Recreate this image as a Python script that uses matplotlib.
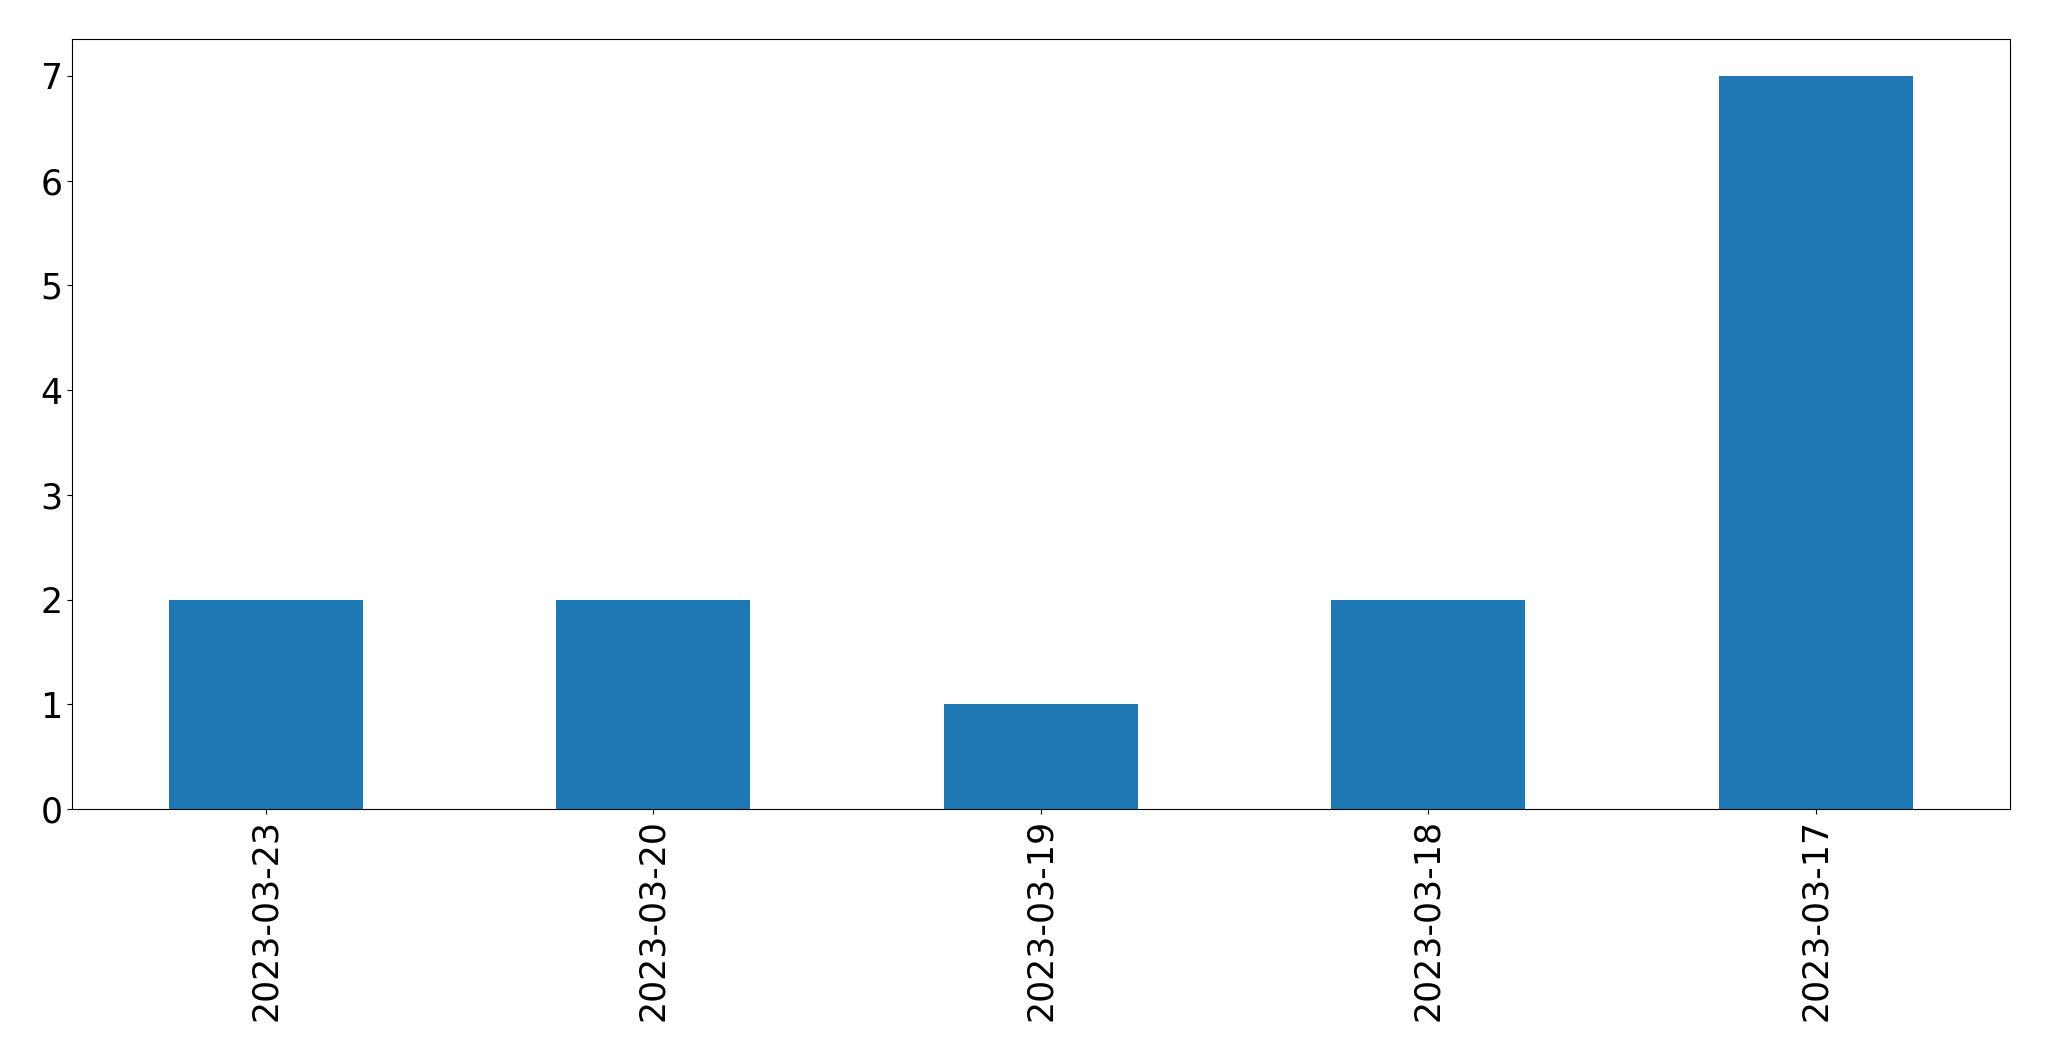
import matplotlib
matplotlib.use("Agg")
import matplotlib.pyplot as plt

dates = ["2023-03-23", "2023-03-20", "2023-03-19", "2023-03-18", "2023-03-17"]
counts = [2, 2, 1, 2, 7]

fig = plt.figure(figsize=(20.49, 10.61), dpi=100)
ax = fig.add_axes([72 / 2049, 1 - 809 / 1061, (2009.5 - 72) / 2049, (809 - 39.3) / 1061])
x = list(range(len(dates)))
ax.bar(x, counts, width=0.5, color="#1f77b4")
ax.set_xlim(-0.5, len(dates) - 0.5)
ax.set_ylim(0, max(counts) * 1.05)
ax.set_xticks(x)
ax.set_xticklabels(dates, rotation=90)
ax.tick_params(labelsize=25)
fig.savefig("out.png", dpi=100)
